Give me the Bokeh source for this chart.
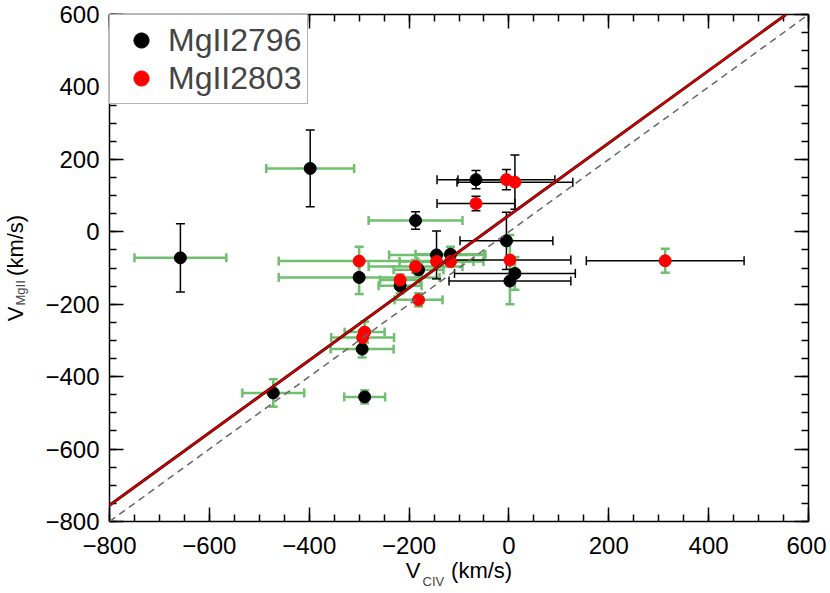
import math
from bokeh.plotting import figure
from bokeh.models import (ColumnDataSource, Whisker, TeeHead, Slope, Legend, LegendItem,
                          LinearAxis, SingleIntervalTicker, CustomJSTickFormatter, Title, Range1d)
from bokeh.embed import file_html
from bokeh.resources import INLINE

# ---------------- data ----------------
# MgII 2796 (black points)
civ_2796 = [-398, -658, -187, -145, -117, -181, -218, -300, -294, -289, -472, -66, -5, 12, 2]
mg_2796 = [175, -72, 31, -64, -62, -105, -149, -126, -324, -456, -445, 144, -25, -115, -136]
xerr_2796 = [88, 92, 94, 95, 70, 50, 43, 161, 63, 41, 62, 78, 93, 121, 122]
yerr_2796 = [106, 94, 24, 66, 21, 15, 21, 46, 23, 18, 38, 25, 79, 45, 64]
xcol_2796 = ["g", "g", "g", "g", "g", "g", "g", "g", "g", "g", "g", "k", "k", "k", "k"]
ycol_2796 = ["k", "k", "k", "k", "g", "g", "g", "g", "g", "g", "g", "k", "k", "g", "g"]

# MgII 2803 (red points)
civ_2803 = [-66, -5, 12, 2, 313, -300, -145, -117, -187, -218, -181, -289, -293]
mg_2803 = [78, 144, 137, -78, -80, -81, -82, -82, -96, -133, -188, -277, -292]
xerr_2803 = [78, 97, 116, 122, 158, 161, 74, 66, 94, 40, 48, 40, 63]
yerr_2803 = [20, 28, 75, 69, 33, 40, 15, 15, 18, 15, 18, 29, 20]
xcol_2803 = ["k", "k", "k", "k", "k", "g", "g", "g", "g", "g", "g", "g", "g"]
ycol_2803 = ["k", "k", "k", "g", "g", "g", "g", "g", "g", "g", "g", "g", "g"]

series_labels = ["MgII2796", "MgII2803"]

# fitted relation and one-to-one line
fit_slope, fit_intercept = 1.0, 45.0
one_slope, one_intercept = 1.0, 0.0

tick_interval = 200
axis_min, axis_max = -800, 600

GREEN = "#6fbf6f"
FONT = "Liberation Sans"
NB = "\u00a0"

# ---------------- figure ----------------
p = figure(x_range=Range1d(axis_min, axis_max), y_range=Range1d(axis_min, axis_max),
           width=826, height=590,
           min_border_left=107, min_border_right=18, min_border_top=14, min_border_bottom=69,
           output_backend="svg", toolbar_location=None)
p.grid.visible = False
p.outline_line_color = None
p.background_fill_color = "white"

ticker = SingleIntervalTicker(interval=tick_interval, num_minor_ticks=4)
fmt = CustomJSTickFormatter(code="return tick < 0 ? '\\u2212' + (-tick) : '' + tick;")
for ax in (p.xaxis[0], p.yaxis[0]):
    ax.ticker = ticker
    ax.formatter = fmt
    ax.major_tick_in = 14
    ax.major_tick_out = 0
    ax.minor_tick_in = 7
    ax.minor_tick_out = 0
    ax.axis_line_width = 1.5
    ax.major_tick_line_width = 1.5
    ax.minor_tick_line_width = 1.5
    ax.axis_line_color = "black"
    ax.major_label_text_font = FONT
    ax.major_label_text_font_size = "24px"
    ax.major_label_text_color = "black"
    ax.axis_label_text_font = FONT
    ax.axis_label_text_font_size = "22px"
    ax.axis_label_text_font_style = "normal"
    ax.axis_label_text_color = "black"
p.xaxis[0].major_label_standoff = 15
p.yaxis[0].major_label_standoff = 10
p.xaxis[0].axis_label = "V" + NB * 5 + "(km/s)"
p.xaxis[0].axis_label_standoff = 1
p.yaxis[0].axis_label = "V" + NB * 5 + "(km/s)"
p.yaxis[0].axis_label_standoff = 14

blank = CustomJSTickFormatter(code="return '';")
for side in ("above", "right"):
    ax = LinearAxis(ticker=ticker, formatter=blank, major_tick_in=14, major_tick_out=0,
                    minor_tick_in=7, minor_tick_out=0, axis_line_width=1.5,
                    major_tick_line_width=1.5, minor_tick_line_width=1.5,
                    major_label_text_font_size="0px", major_label_standoff=0)
    p.add_layout(ax, side)

# subscripts of the axis titles
p.add_layout(Title(text="CIV", text_font=FONT, text_font_size="13px", text_font_style="normal",
                   align="left", offset=313, vertical_align="top", standoff=-23), "below")
p.add_layout(Title(text="MgII", text_font=FONT, text_font_size="13px", text_font_style="normal",
                   align="left", offset=216, vertical_align="bottom", standoff=-55), "left")

# ---------------- error bars ----------------
def collect(civ, mg, err, col, which, want):
    b, lo, up = [], [], []
    for xv, yv, e, c in zip(civ, mg, err, col):
        if c != want:
            continue
        if which == "x":
            b.append(yv); lo.append(xv - e); up.append(xv + e)
        else:
            b.append(xv); lo.append(yv - e); up.append(yv + e)
    return b, lo, up

for which in ("x", "y"):
    for want, color, lw in (("g", GREEN, 2.5), ("k", "black", 1.5)):
        b1, l1, u1 = collect(civ_2796, mg_2796, xerr_2796 if which == "x" else yerr_2796,
                             xcol_2796 if which == "x" else ycol_2796, which, want)
        b2, l2, u2 = collect(civ_2803, mg_2803, xerr_2803 if which == "x" else yerr_2803,
                             xcol_2803 if which == "x" else ycol_2803, which, want)
        src = ColumnDataSource(dict(base=b1 + b2, lower=l1 + l2, upper=u1 + u2))
        w = Whisker(base="base", lower="lower", upper="upper",
                    dimension="width" if which == "x" else "height", source=src,
                    line_color=color, line_width=lw,
                    upper_head=TeeHead(size=9, line_color=color, line_width=lw),
                    lower_head=TeeHead(size=9, line_color=color, line_width=lw))
        p.add_layout(w)

# ---------------- points ----------------
r1 = p.scatter(civ_2796, mg_2796, size=12, color="black")
r2 = p.scatter(civ_2803, mg_2803, size=12, color="red")

# ---------------- lines ----------------
p.add_layout(Slope(gradient=one_slope, y_intercept=one_intercept, line_color="#666666",
                   line_width=1.5, line_dash="7 5"))
p.add_layout(Slope(gradient=fit_slope, y_intercept=fit_intercept, line_color="#550000",
                   line_width=3))
p.add_layout(Slope(gradient=fit_slope, y_intercept=fit_intercept, line_color="#e00000",
                   line_width=1.5))

# ---------------- legend ----------------
legend = Legend(items=[LegendItem(label=series_labels[0], renderers=[r1]),
                       LegendItem(label=series_labels[1], renderers=[r2])],
                location="top_left", margin=0, padding=6, spacing=0,
                glyph_width=50, glyph_height=38, label_height=38, label_standoff=2,
                label_text_font=FONT, label_text_font_size="32px",
                border_line_color="#666666", border_line_width=1.5,
                background_fill_alpha=1.0)
p.add_layout(legend)

open("out.html", "w").write(file_html(p, INLINE))
